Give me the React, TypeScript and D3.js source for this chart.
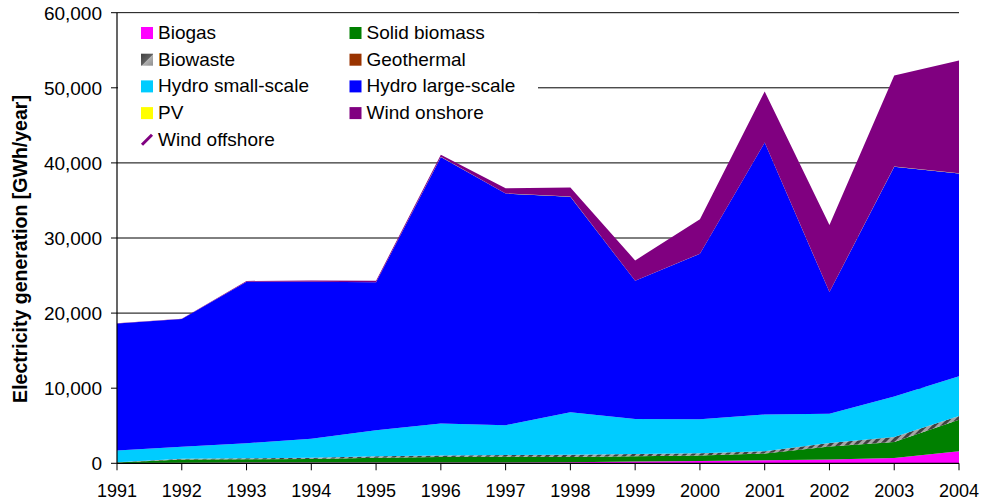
import * as d3 from "d3";

const years = [1991, 1992, 1993, 1994, 1995, 1996, 1997, 1998, 1999, 2000, 2001, 2002, 2003, 2004];

// GWh/year
const biogas = [50, 80, 100, 100, 100, 100, 120, 150, 250, 300, 400, 500, 700, 1600];
const solidBiomass = [50, 420, 430, 480, 650, 750, 750, 700, 700, 750, 900, 1750, 2150, 4200];
const biowaste = [50, 100, 150, 150, 200, 200, 250, 300, 300, 300, 300, 450, 650, 500];
const geothermal = [0, 0, 0, 0, 0, 0, 0, 0, 0, 0, 0, 0, 0, 0];
const hydroSmall = [1550, 1600, 2000, 2550, 3450, 4250, 3950, 5650, 4650, 4500, 4900, 3900, 5400, 5300];
const hydroLarge = [16900, 17000, 21500, 20900, 19700, 35500, 30850, 28700, 18400, 22050, 36200, 16200, 30600, 27000];
const pv = [3, 4, 5, 6, 7, 8, 9, 10, 11, 13, 15, 18, 22, 27];
const windOnshore = [30, 50, 100, 150, 200, 280, 700, 1200, 2700, 4600, 6800, 8900, 12100, 15000];
const windOffshore = [0, 0, 0, 0, 0, 0, 0, 0, 0, 0, 0, 0, 0, 0];

const yTicks = [0, 10000, 20000, 30000, 40000, 50000, 60000];

const series = [
  { key: "Biogas", values: biogas, fill: "#ff00ff" },
  { key: "Solid biomass", values: solidBiomass, fill: "#008000" },
  { key: "Biowaste", values: biowaste, fill: "url(#biowaste)" },
  { key: "Geothermal", values: geothermal, fill: "#993300" },
  { key: "Hydro small-scale", values: hydroSmall, fill: "#00ccff" },
  { key: "Hydro large-scale", values: hydroLarge, fill: "#0000ff" },
  { key: "PV", values: pv, fill: "#ffff00" },
  { key: "Wind onshore", values: windOnshore, fill: "#800080" },
  { key: "Wind offshore", values: windOffshore, fill: "url(#offshore)" },
];

const font = "'Liberation Sans', Arial, sans-serif";

export default function App() {
  const left = 117,
    right = 959,
    top = 12.7,
    bottom = 463.3;

  const x = d3.scaleLinear().domain([1991, 2004]).range([left, right]);
  const y = d3.scaleLinear().domain([0, 60000]).range([bottom, top]);

  const rows = years.map((yr, i) => {
    const r: Record<string, number> = { year: yr };
    series.forEach((s) => (r[s.key] = s.values[i]));
    return r;
  });
  const stacked = d3.stack<Record<string, number>>().keys(series.map((s) => s.key))(rows);

  const area = d3
    .area<d3.SeriesPoint<Record<string, number>>>()
    .x((d) => x(d.data.year))
    .y0((d) => y(d[0]))
    .y1((d) => y(d[1]));

  const fmt = d3.format(",");

  return (
    <svg
      width={982}
      height={503}
      style={{ position: "absolute", left: 0, top: 0, background: "#fff" }}
      fontFamily={font}
    >
      <defs>
        <pattern id="biowaste" width={6} height={6} patternUnits="userSpaceOnUse" patternTransform="rotate(45)">
          <rect width={6} height={6} fill="#a6a6a6" />
          <rect width={3} height={6} fill="#404040" />
        </pattern>
        <pattern id="offshore" width={5} height={5} patternUnits="userSpaceOnUse" patternTransform="rotate(45)">
          <rect width={5} height={5} fill="#fff" />
          <rect width={2} height={5} fill="#800080" />
        </pattern>
        <linearGradient id="bwLegend" x1="0" y1="0" x2="1" y2="1">
          <stop offset="0" stopColor="#404040" />
          <stop offset="0.5" stopColor="#606060" />
          <stop offset="0.55" stopColor="#b0b0b0" />
          <stop offset="1" stopColor="#909090" />
        </linearGradient>
      </defs>

      {/* gridlines */}
      {yTicks.slice(1).map((t) => (
        <line key={t} x1={left} x2={right} y1={y(t)} y2={y(t)} stroke="#000" strokeWidth={1} />
      ))}

      {/* stacked areas */}
      {stacked.map((layer, i) => (
        <path key={layer.key} d={area(layer) ?? ""} fill={series[i].fill} stroke="none" />
      ))}

      {/* legend background */}
      <rect x={left + 1} y={top + 1} width={420} height={140} fill="#fff" />
      {series.map((s, i) => {
        const col = i % 2;
        const row = Math.floor(i / 2);
        const sx = col === 0 ? 141 : 349.5;
        const sy = 27 + row * 26.7;
        return (
          <g key={s.key}>
            {s.key === "Wind offshore" ? (
              <line x1={sx + 1} y1={sy + 11} x2={sx + 11} y2={sy + 1} stroke="#800080" strokeWidth={3} />
            ) : (
              <rect
                x={sx}
                y={sy}
                width={12}
                height={12}
                fill={s.key === "Biowaste" ? "url(#bwLegend)" : s.fill}
              />
            )}
            <text x={sx + 17} y={sy + 12} fontSize={19} fill="#000">
              {s.key}
            </text>
          </g>
        );
      })}

      {/* y axis */}
      <line x1={left} x2={left} y1={top} y2={bottom} stroke="#000" strokeWidth={1.2} />
      {yTicks.map((t) => (
        <g key={t}>
          <line x1={left - 6} x2={left} y1={y(t)} y2={y(t)} stroke="#000" />
          <text x={102} y={y(t)} dy="0.36em" textAnchor="end" fontSize={19} fill="#000">
            {fmt(t)}
          </text>
        </g>
      ))}

      {/* x axis */}
      <line x1={left} x2={right} y1={bottom} y2={bottom} stroke="#000" strokeWidth={1.2} />
      {years.map((yr) => (
        <g key={yr}>
          <line x1={x(yr)} x2={x(yr)} y1={bottom} y2={bottom + 7} stroke="#000" />
          <text x={x(yr)} y={497} textAnchor="middle" fontSize={18} fill="#000">
            {yr}
          </text>
        </g>
      ))}

      <text
        transform={`translate(27,249) rotate(-90)`}
        textAnchor="middle"
        fontSize={19.5}
        fontWeight="bold"
        fill="#000"
      >
        Electricity generation [GWh/year]
      </text>
    </svg>
  );
}
